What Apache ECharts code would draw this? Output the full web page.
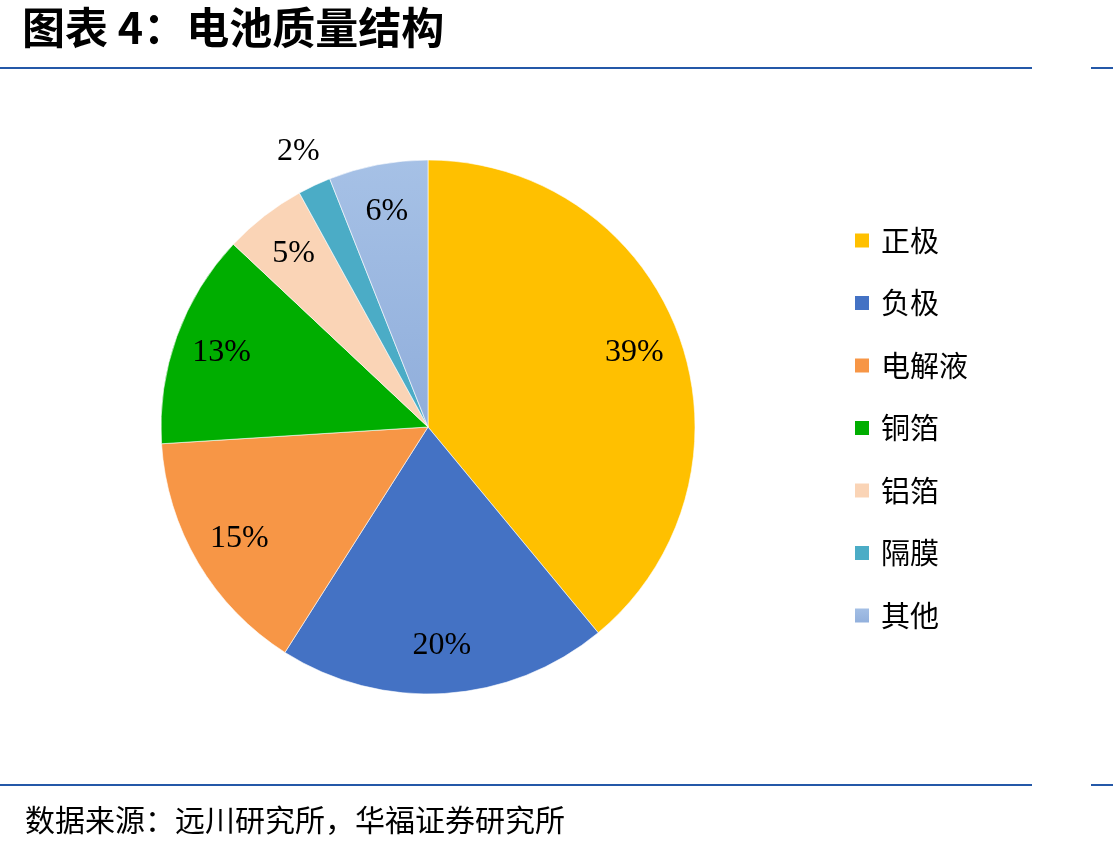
<!DOCTYPE html>
<html>
<head>
<meta charset="utf-8">
<script src="https://cdn.jsdelivr.net/npm/echarts@6/dist/echarts.min.js"></script>
<style>
  html, body { margin: 0; padding: 0; background: #fff; }
  #chart { width: 1113px; height: 851px; }
</style>
</head>
<body>
<div id="chart"></div>
<script>
  // 电池质量结构
  var categories = ['正极', '负极', '电解液', '铜箔', '铝箔', '隔膜', '其他'];
  var shares = [39, 20, 15, 13, 5, 2, 6];
  var sliceColors = ['#FFC000', '#4472C4', '#F79646', '#00AE00', '#FAD4B6', '#4BACC6', '#9DBAE2'];
  var outsideLabel = ['隔膜'];   // 这个标签放在饼图外面

  var blue = '#2458A8';
  var cx = 428, cy = 427, r = 267;

  var chart = echarts.init(document.getElementById('chart'));

  function pieData(showFn) {
    return categories.map(function (name, i) {
      return {
        name: name,
        value: shares[i],
        label: { show: showFn(name) }
      };
    });
  }

  var mainData = categories.map(function (name, i) {
    var c = sliceColors[i];
    if (name === '其他') {
      c = new echarts.graphic.LinearGradient(0, 0, 0, 1, [
        { offset: 0, color: '#A6C1E6' },
        { offset: 1, color: '#90AEDB' }
      ]);
    }
    return { name: name, value: shares[i], itemStyle: { color: c } };
  });

  var labelFont = {
    fontFamily: '"Liberation Serif", "Times New Roman", serif',
    fontSize: 32,
    color: '#000'
  };

  chart.setOption({
    animation: false,
    legend: {
      orient: 'vertical',
      left: 853,
      top: 226,
      padding: 0,
      icon: 'rect',
      itemWidth: 16,
      itemHeight: 16,
      itemGap: 33.5,
      data: categories,
      selectedMode: false,
      textStyle: {
        fontFamily: '"Noto Sans CJK SC", sans-serif',
        fontSize: 29,
        color: '#000',
        padding: [0, 0, 0, 6]
      }
    },
    graphic: [
      { type: 'text', left: 22, top: 6,
        style: { text: '图表 4：电池质量结构', fill: '#000',
          font: 'bold 43px "Noto Sans CJK SC", sans-serif' } },
      { type: 'rect', shape: { x: 0, y: 67, width: 1032, height: 2 }, style: { fill: blue } },
      { type: 'rect', shape: { x: 1091, y: 67, width: 22, height: 2 }, style: { fill: blue } },
      { type: 'rect', shape: { x: 0, y: 784, width: 1032, height: 2 }, style: { fill: blue } },
      { type: 'rect', shape: { x: 1091, y: 784, width: 22, height: 2 }, style: { fill: blue } },
      { type: 'text', left: 25, top: 805,
        style: { text: '数据来源：远川研究所，华福证券研究所', fill: '#000',
          font: '30px "Noto Sans CJK SC", sans-serif' } }
    ],
    series: [
      {
        name: 'slices',
        type: 'pie',
        center: [cx, cy],
        radius: [0, r],
        startAngle: 90,
        clockwise: true,
        avoidLabelOverlap: false,
        label: { show: false },
        labelLine: { show: false },
        itemStyle: { borderColor: '#fff', borderWidth: 0.6 },
        data: mainData
      },
      {
        // 内部标签
        name: 'inner-labels',
        type: 'pie',
        silent: true,
        center: [cx, cy],
        radius: [r * 0.62, r],
        startAngle: 90,
        avoidLabelOverlap: false,
        itemStyle: { color: 'rgba(0,0,0,0)' },
        label: Object.assign({ position: 'inside', formatter: '{c}%' }, labelFont),
        labelLine: { show: false },
        data: pieData(function (n) { return outsideLabel.indexOf(n) < 0; })
      },
      {
        // 外部标签
        name: 'outer-labels',
        type: 'pie',
        silent: true,
        center: [cx, cy],
        radius: [r * 1.07, r * 1.19],
        startAngle: 90,
        avoidLabelOverlap: false,
        itemStyle: { color: 'rgba(0,0,0,0)' },
        label: Object.assign({ position: 'inside', formatter: '{c}%' }, labelFont),
        labelLine: { show: false },
        data: pieData(function (n) { return outsideLabel.indexOf(n) >= 0; })
      }
    ]
  });
</script>
</body>
</html>
